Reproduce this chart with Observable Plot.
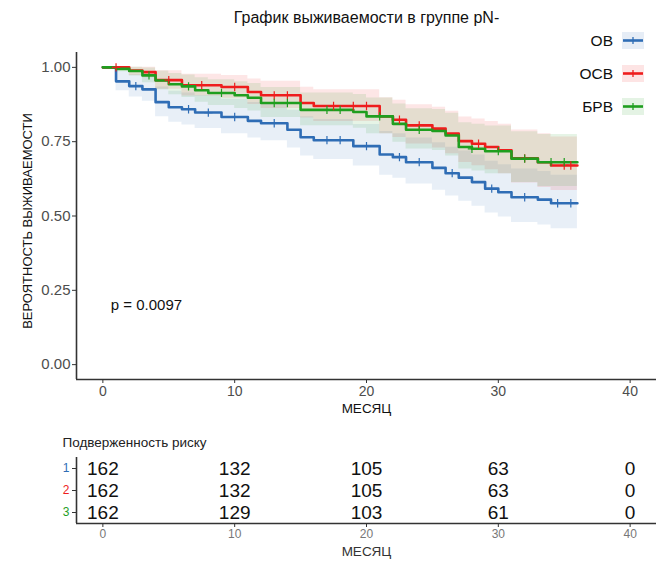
<!DOCTYPE html>
<html>
<head>
<meta charset="utf-8">
<script src="https://cdn.jsdelivr.net/npm/d3@7"></script>
<script src="https://cdn.jsdelivr.net/npm/@observablehq/plot@0.6"></script>
<style>
  body { margin: 0; background: #fff; font-family: "Liberation Sans", Arial, sans-serif; }
  #wrap { position: relative; width: 663px; height: 562px; overflow: hidden; }
  #main, #table { display: block; }
  #legend { position: absolute; left: 556px; top: 24px; }
  .lrow { display: flex; align-items: center; height: 33px; }
  .lrow span { width: 57px; text-align: right; margin-right: 9px; font-size: 15.5px; color: #111; }
</style>
</head>
<body>
<div id="wrap">
  <div id="main"></div>
  <div id="table"></div>
  <div id="legend"></div>
</div>
<script>
// ---------- data ----------
const groups = ["ОВ", "ОСВ", "БРВ"];
const groupColors = ["#2f6db5", "#ee1d1d", "#1f9e1f"];

const ovTime  = [0, 1, 2, 3, 4, 5, 6, 7, 9, 11, 12, 14, 15, 16, 19, 21, 22, 23, 25, 26, 27, 28, 29, 30, 31, 33, 34, 36];
const ovSurv  = [1, 0.953, 0.937, 0.926, 0.883, 0.866, 0.859, 0.848, 0.833, 0.820, 0.812, 0.790, 0.765, 0.755, 0.735, 0.707, 0.698, 0.681, 0.662, 0.644, 0.629, 0.614, 0.592, 0.580, 0.563, 0.555, 0.543, 0.543];
const ovLower = [1, 0.921, 0.900, 0.886, 0.834, 0.815, 0.806, 0.794, 0.777, 0.762, 0.753, 0.729, 0.702, 0.690, 0.668, 0.637, 0.627, 0.608, 0.587, 0.567, 0.550, 0.533, 0.510, 0.497, 0.478, 0.470, 0.457, 0.457];
const ovUpper = [1, 0.986, 0.975, 0.967, 0.934, 0.920, 0.914, 0.905, 0.893, 0.882, 0.876, 0.856, 0.834, 0.825, 0.808, 0.784, 0.777, 0.762, 0.746, 0.731, 0.719, 0.705, 0.684, 0.672, 0.658, 0.650, 0.637, 0.637];
const ovCensor = [2.5, 6.5, 8, 10, 13, 17, 18, 20, 22.5, 24, 26.5, 29.5, 32, 34.5, 35.5];

const osvTime  = [0, 2, 3, 4, 6, 9, 11, 12, 15, 16, 21, 22, 23, 25, 26, 27, 28, 29, 30, 31, 33, 34, 36];
const osvSurv  = [1, 0.989, 0.984, 0.957, 0.940, 0.934, 0.917, 0.906, 0.880, 0.870, 0.835, 0.824, 0.805, 0.794, 0.777, 0.752, 0.743, 0.732, 0.721, 0.694, 0.681, 0.670, 0.670];
const osvLower = [1, 0.973, 0.965, 0.926, 0.904, 0.896, 0.875, 0.862, 0.830, 0.818, 0.777, 0.764, 0.742, 0.729, 0.709, 0.680, 0.669, 0.656, 0.642, 0.611, 0.596, 0.586, 0.586];
const osvUpper = [1, 1, 1, 0.989, 0.977, 0.973, 0.961, 0.953, 0.933, 0.925, 0.898, 0.889, 0.874, 0.866, 0.852, 0.833, 0.826, 0.818, 0.809, 0.789, 0.777, 0.766, 0.766];
const osvCensor = [1, 5, 7.5, 10, 13, 14, 17.5, 19, 20, 22.5, 24, 28.5, 32, 35, 35.5];

const brvTime  = [0, 1, 2, 3, 4, 5, 6, 7, 8, 10, 11, 12, 15, 19, 20, 22, 23, 25, 26, 27, 28, 29, 31, 33, 36];
const brvSurv  = [1, 0.995, 0.988, 0.973, 0.956, 0.943, 0.936, 0.923, 0.914, 0.906, 0.898, 0.880, 0.857, 0.850, 0.835, 0.810, 0.790, 0.786, 0.771, 0.732, 0.726, 0.718, 0.693, 0.681, 0.681];
const brvLower = [1, 0.985, 0.971, 0.948, 0.925, 0.908, 0.899, 0.883, 0.872, 0.862, 0.853, 0.831, 0.804, 0.795, 0.777, 0.748, 0.725, 0.720, 0.702, 0.658, 0.651, 0.642, 0.613, 0.599, 0.599];
const brvUpper = [1, 1, 1, 0.998, 0.988, 0.979, 0.974, 0.965, 0.958, 0.952, 0.946, 0.932, 0.914, 0.909, 0.897, 0.877, 0.861, 0.858, 0.846, 0.814, 0.809, 0.803, 0.783, 0.774, 0.774];
const brvCensor = [3.5, 6.5, 9, 13, 14, 17, 18, 21, 24, 28, 30, 32, 34, 35];

const xTicks = [0, 10, 20, 30, 40];
const yTicks = [0, 0.25, 0.5, 0.75, 1];
const riskTimes = [0, 10, 20, 30, 40];
const riskOV  = [162, 132, 105, 63, 0];
const riskOSV = [162, 132, 105, 63, 0];
const riskBRV = [162, 129, 103, 61, 0];
const rowLabels = ["1", "2", "3"];

const titleText = "График выживаемости в группе pN-";
const pText = "p = 0.0097";
const xLabel = "МЕСЯЦ";
const yLabel = "ВЕРОЯТНОСТЬ ВЫЖИВАЕМОСТИ";
const tableTitle = "Подверженность риску";

// ---------- tables built from the arrays ----------
const series = [
  {g: groups[0], t: ovTime, s: ovSurv, lo: ovLower, hi: ovUpper, c: ovCensor},
  {g: groups[1], t: osvTime, s: osvSurv, lo: osvLower, hi: osvUpper, c: osvCensor},
  {g: groups[2], t: brvTime, s: brvSurv, lo: brvLower, hi: brvUpper, c: brvCensor}
];
const curveRows = [];
const censorRows = [];
for (const d of series) {
  d.t.forEach((t, i) => curveRows.push({group: d.g, t, s: d.s[i], lo: d.lo[i], hi: d.hi[i]}));
  for (const ct of d.c) {
    let idx = 0;
    for (let i = 0; i < d.t.length; i++) if (d.t[i] <= ct) idx = i;
    censorRows.push({group: d.g, t: ct, s: d.s[idx]});
  }
}
const riskRows = [];
[riskOV, riskOSV, riskBRV].forEach((arr, k) =>
  arr.forEach((n, i) => riskRows.push({row: k + 1, t: riskTimes[i], n}))
);

const colorScale = {domain: groups, range: groupColors};
const FONT = "'Liberation Sans', Arial, sans-serif";

// ---------- main plot ----------
const main = Plot.plot({
  width: 663, height: 420,
  marginLeft: 76, marginRight: 7, marginTop: 52, marginBottom: 41,
  x: {domain: [-2, 42]},
  y: {domain: [-0.05, 1.05]},
  color: colorScale,
  style: {fontFamily: FONT, background: "white", color: "#111"},
  marks: [
    Plot.areaY(curveRows, {x: "t", y1: "lo", y2: "hi", fill: "group", fillOpacity: 0.11, curve: "step-after"}),
    Plot.line(curveRows, {x: "t", y: "s", stroke: "group", strokeWidth: 2.6, curve: "step-after"}),
    Plot.dot(censorRows, {x: "t", y: "s", stroke: "group", symbol: "plus", r: 2.8, strokeWidth: 1.2}),
    Plot.ruleX([-2], {stroke: "#333", strokeWidth: 1.6}),
    Plot.ruleY([-0.05], {stroke: "#333", strokeWidth: 1.6}),
    Plot.axisX({ticks: xTicks, tickSize: 4, tickPadding: 3, fontSize: 14, label: null, color: "#4d4d4d", stroke: "#333"}),
    Plot.axisY({ticks: yTicks, tickFormat: d3.format(".2f"), tickSize: 4, tickPadding: 2, fontSize: 15, label: null, color: "#4d4d4d", stroke: "#333"}),
    Plot.text([xLabel], {frameAnchor: "bottom", dy: 29, lineAnchor: "middle", fontSize: 13.5, fill: "#111"}),
    Plot.text([yLabel], {frameAnchor: "left", dx: -49, dy: 5, rotate: -90, textAnchor: "middle", lineAnchor: "middle", fontSize: 13, fill: "#111"}),
    Plot.text([titleText], {frameAnchor: "top", dy: -35, lineAnchor: "middle", fontSize: 16, fill: "#111"}),
    Plot.text([pText], {x: () => 0.6, y: () => 0.2, textAnchor: "start", lineAnchor: "middle", fontSize: 15, fill: "#111"})
  ]
});
document.getElementById("main").appendChild(main);

// ---------- legend ----------
const legend = document.getElementById("legend");
groups.forEach((g, i) => {
  const row = document.createElement("div");
  row.className = "lrow";
  const lab = document.createElement("span");
  lab.textContent = g;
  row.appendChild(lab);
  const sw = d3.create("svg").attr("width", 22).attr("height", 17);
  sw.append("rect").attr("width", 22).attr("height", 17).attr("fill", groupColors[i]).attr("fill-opacity", 0.12);
  sw.append("line").attr("x1", 1).attr("x2", 21).attr("y1", 8.5).attr("y2", 8.5).attr("stroke", groupColors[i]).attr("stroke-width", 2.6);
  sw.append("line").attr("x1", 11).attr("x2", 11).attr("y1", 5).attr("y2", 12).attr("stroke", groupColors[i]).attr("stroke-width", 1.3);
  row.appendChild(sw.node());
  legend.appendChild(row);
});

// ---------- risk table ----------
const table = Plot.plot({
  width: 663, height: 142,
  marginLeft: 76, marginRight: 7, marginTop: 37, marginBottom: 39,
  x: {domain: [-2, 42]},
  y: {domain: [0.5, 3.5], reverse: true},
  style: {fontFamily: FONT, background: "white", color: "#111"},
  marks: [
    Plot.text(riskRows, {x: "t", y: "row", text: "n", fontSize: 19, fill: "#111"}),
    Plot.ruleX([-2], {stroke: "#333", strokeWidth: 1.6}),
    Plot.ruleY([3.5], {stroke: "#333", strokeWidth: 1.6}),
    Plot.axisX({ticks: xTicks, tickSize: 4, tickPadding: 2, fontSize: 12, label: null, color: "#777", stroke: "#333"}),
    Plot.axisY({ticks: [1, 2, 3], tickSize: 4, tickFormat: () => "", label: null, stroke: "#333"}),
    Plot.text(rowLabels, {x: () => -2, y: (d, i) => i + 1, dx: -7, textAnchor: "end", fontSize: 12, fill: (d, i) => groupColors[i]}),
    Plot.text([xLabel], {frameAnchor: "bottom", dy: 28, lineAnchor: "middle", fontSize: 13.5, fill: "#333"}),
    Plot.text([tableTitle], {frameAnchor: "top-left", dx: -14, dy: -15, textAnchor: "start", lineAnchor: "middle", fontSize: 13.5, fill: "#222"})
  ]
});
document.getElementById("table").appendChild(table);
</script>
</body>
</html>
